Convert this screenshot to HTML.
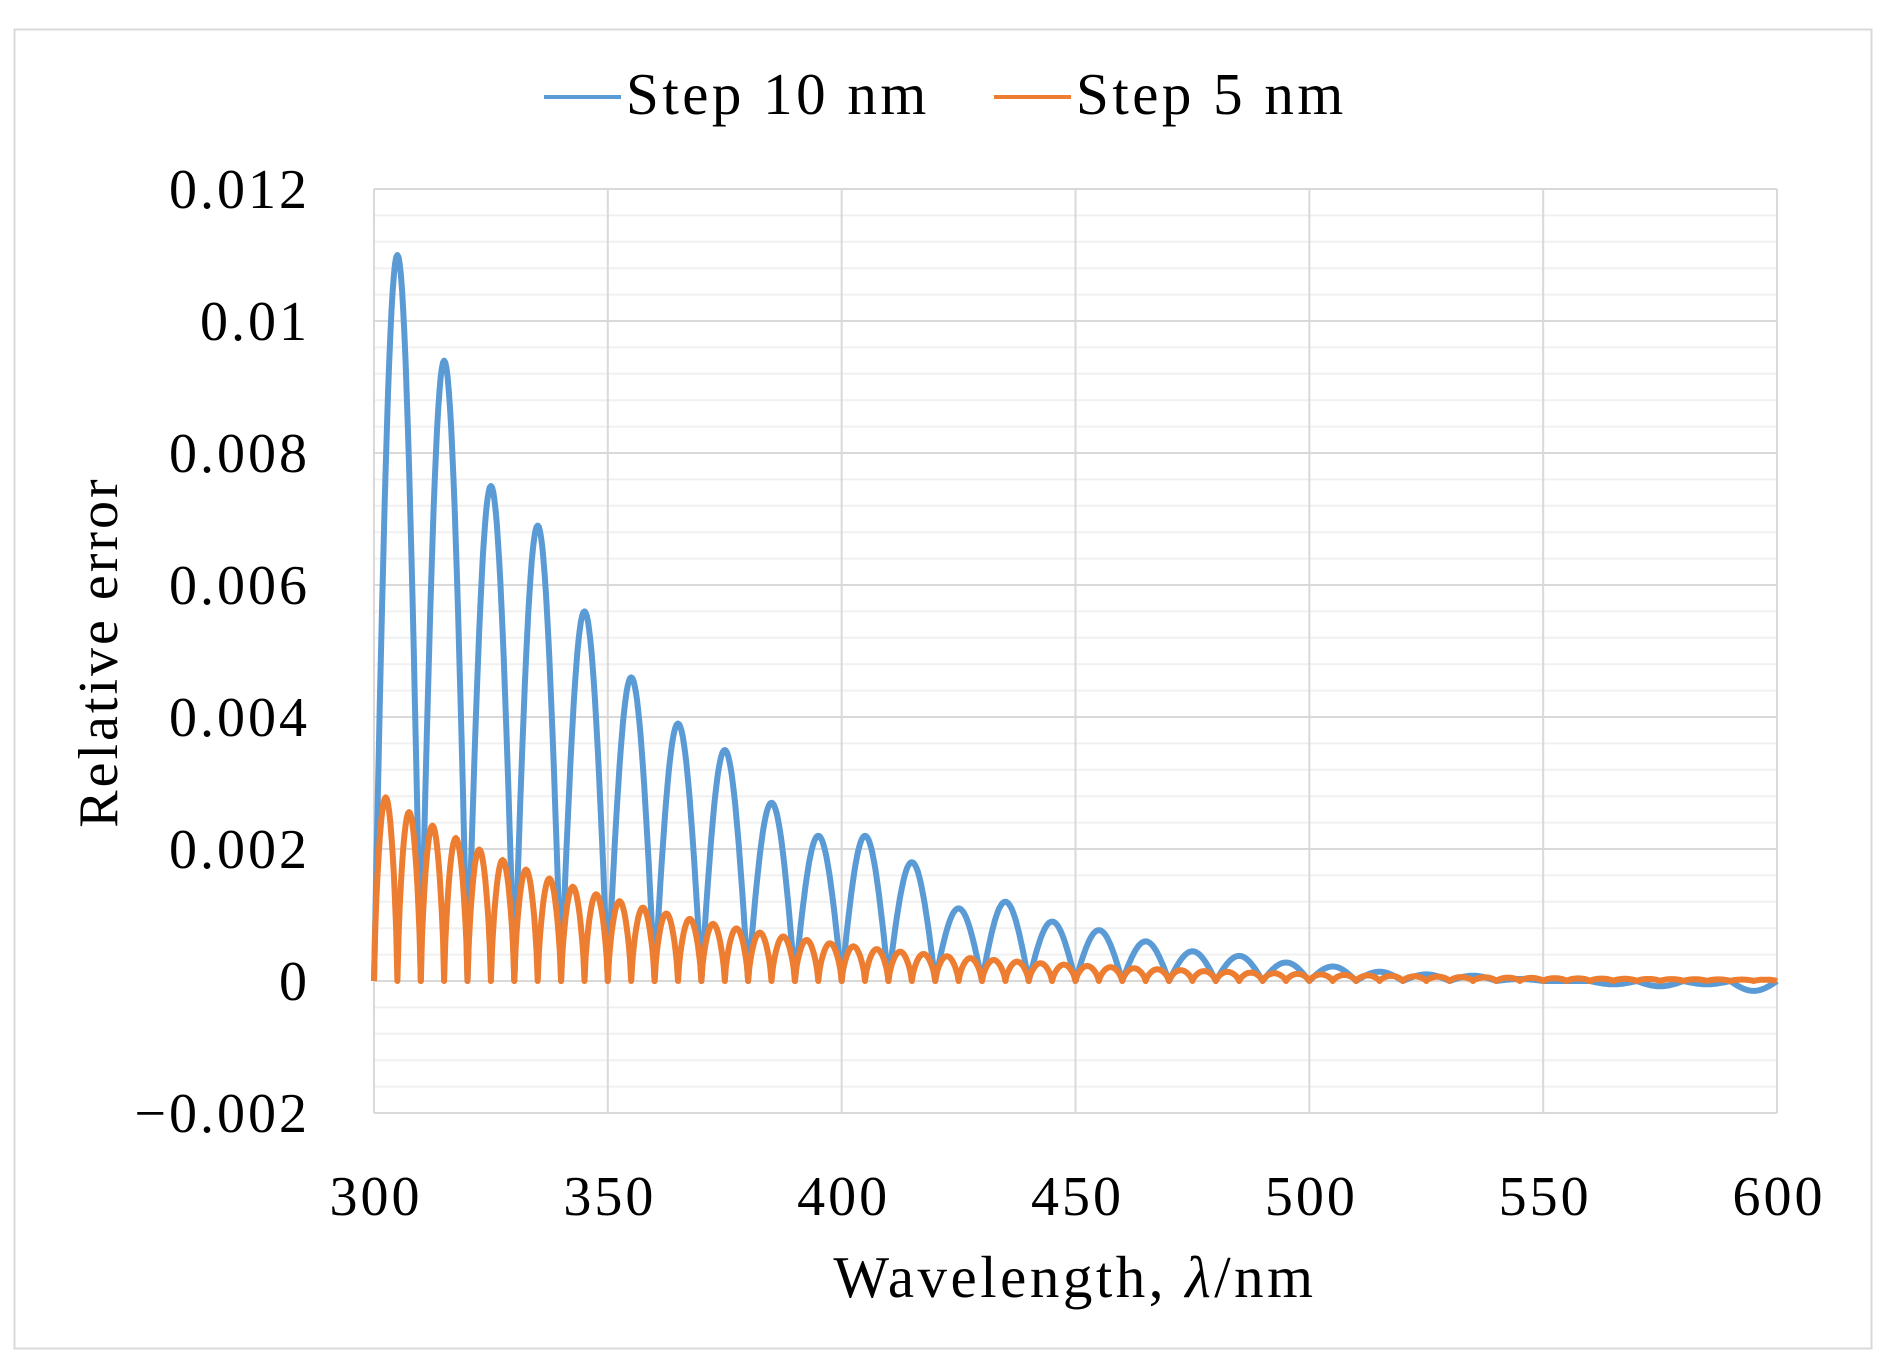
<!DOCTYPE html>
<html><head><meta charset="utf-8"><style>
html,body{margin:0;padding:0;background:#fff;}
svg{display:block}
text{font-family:"Liberation Serif",serif;fill:#000;letter-spacing:3px}
</style></head><body>
<svg id="s" width="1888" height="1370" xmlns="http://www.w3.org/2000/svg">
<rect x="0" y="0" width="1888" height="1370" fill="#fff"/>
<rect x="14.5" y="29.5" width="1857" height="1319" fill="none" stroke="#d9d9d9" stroke-width="2"/>
<g id="grid"></g>
<g font-size="56" text-anchor="end" id="yl"></g>
<g font-size="56" text-anchor="middle" id="xl"></g>
<text x="1075" y="1297" font-size="59" text-anchor="middle" style="letter-spacing:3.5px">Wavelength, <tspan font-style="italic">λ</tspan>/nm</text>
<text transform="translate(117,652) rotate(-90)" font-size="56" text-anchor="middle">Relative error</text>
<line x1="544" y1="97" x2="621" y2="97" stroke="#5b9bd5" stroke-width="4"/>
<text x="626" y="114" font-size="59" style="letter-spacing:3.5px">Step 10 nm</text>
<line x1="994" y1="97" x2="1071" y2="97" stroke="#ed7d31" stroke-width="4"/>
<text x="1076" y="114" font-size="59" style="letter-spacing:3.5px">Step 5 nm</text>
<path id="b" fill="none" stroke="#5b9bd5" stroke-width="6" stroke-linejoin="round"/>
<path id="o" fill="none" stroke="#ed7d31" stroke-width="6" stroke-linejoin="round"/>
</svg>
<script>
const X=v=>374+(v-300)*(1403/300), Y=v=>981-v*66000;
let g='';
for(let i=0;i<=35;i++){const v=-0.002+i*0.0004;const y=Y(v);const major=(i%5==0);
g+=`<line x1="374" x2="1777" y1="${y}" y2="${y}" stroke="${major?'#d9d9d9':'#f0f0f0'}" stroke-width="2"/>`;}
for(let x=300;x<=600;x+=50){g+=`<line x1="${X(x)}" x2="${X(x)}" y1="189" y2="1113" stroke="#d9d9d9" stroke-width="2"/>`;}
document.getElementById('grid').innerHTML=g;
let yl='';const labs=['−0.002','0','0.002','0.004','0.006','0.008','0.01','0.012'];
labs.forEach((t,i)=>{yl+=`<text x="310" y="${Y(-0.002+i*0.002)+19}">${t}</text>`});
document.getElementById('yl').innerHTML=yl;
let xl='';for(let x=300;x<=600;x+=50)xl+=`<text x="${X(x)+2}" y="1215">${x}</text>`;
document.getElementById('xl').innerHTML=xl;
const pk=[0.011,0.0094,0.0075,0.0069,0.0056,0.0046,0.0039,0.0035,0.0027,0.0022,0.0022,0.0018,0.0011,0.0012,0.0009,0.00077,0.0006,0.00045,0.00038,0.00028,0.00022,0.00014,0.0001,0.00008,0.00003,0,-0.00005,-0.00008,-0.00005,-0.00015];
let d='';
for(let x=300;x<=600;x+=0.25){const k=Math.min(29,Math.floor((x-300)/10));const ph=(x-300-k*10)/10;
const v=pk[k]*Math.sin(Math.PI*ph);d+=(d?'L':'M')+X(x).toFixed(1)+' '+Y(v).toFixed(1);}
document.getElementById('b').setAttribute('d',d);
d='';
for(let x=300;x<=600;x+=0.25){const k=Math.floor((x-300)/5);const ph=(x-300-k*5)/5;
const p=0.0029*Math.exp(-(k*5+2.5)/60);const v=p*Math.pow(Math.sin(Math.PI*ph),0.7);d+=(d?'L':'M')+X(x).toFixed(1)+' '+Y(v).toFixed(1);}
document.getElementById('o').setAttribute('d',d);
</script>
</body></html>
